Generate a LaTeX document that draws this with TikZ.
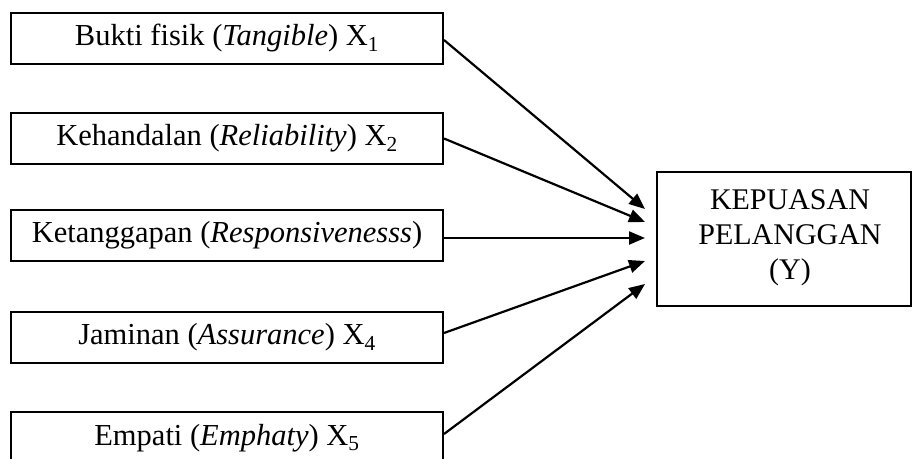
\documentclass[tikz,border=0pt]{standalone}
\usepackage{fontspec}
\setmainfont{Liberation Serif}
\usetikzlibrary{arrows.meta}
\tikzset{
  leftbox/.style={draw, line width=2pt, minimum width=432pt, minimum height=51pt, inner sep=0pt, font=\fontsize{30.5}{36}\selectfont},
  rightbox/.style={draw, line width=2pt, minimum width=254pt, minimum height=134pt, inner sep=0pt},
  rtext/.style={align=center, font=\fontsize{30}{35}\selectfont, inner sep=0pt},
  conn/.style={line width=2.2pt, -{Triangle[length=16pt,width=13pt]}}
}
\begin{document}
\begin{tikzpicture}[x=1pt,y=-1pt]
\useasboundingbox (0,0) rectangle (912,458);
\clip (0,0) rectangle (912,458);
\fill[white] (0,0) rectangle (912,458);
\node[leftbox] (b1) at (227,38) {Bukti fisik (\textit{Tangible}) X\textsubscript{1}};
\node[leftbox] (b2) at (227,138.5) {Kehandalan (\textit{Reliability}) X\textsubscript{2}};
\node[leftbox] (b3) at (227,235.5) {Ketanggapan (\textit{Responsivenesss})};
\node[leftbox] (b4) at (227,337.5) {Jaminan (\textit{Assurance}) X\textsubscript{4}};
\node[leftbox, minimum height=52pt] (b5) at (227,438) {Empati (\textit{Emphaty}) X\textsubscript{5}};
\node[rightbox] (y) at (784,238.5) {};
\node[rtext] (ytext) at (790,238) {KEPUASAN\\PELANGGAN\\(Y)};
\coordinate (t1) at (645,209);
\coordinate (t2) at (645,222);
\coordinate (t3) at (645,238);
\coordinate (t4) at (645,261);
\coordinate (t5) at (645,284);
\draw[conn] ([yshift=-2pt]b1.east) -- (t1);
\draw[conn] (b2.east) -- (t2);
\draw[conn] ([yshift=-2.5pt]b3.east) -- (t3);
\draw[conn] ([yshift=4.5pt]b4.east) -- (t4);
\draw[conn] ([yshift=4pt]b5.east) -- (t5);
\end{tikzpicture}
\end{document}
